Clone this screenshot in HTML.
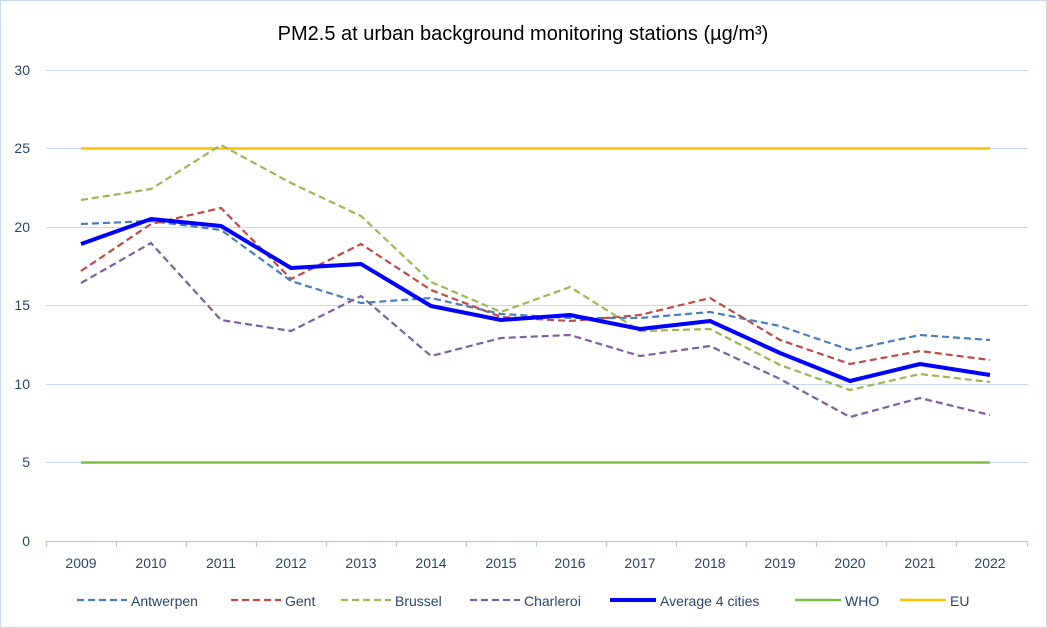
<!DOCTYPE html>
<html><head><meta charset="utf-8"><style>
html,body{margin:0;padding:0;background:#fff}
svg{display:block}
text{font-family:"Liberation Sans",sans-serif}
</style></head><body>
<svg width="1047" height="628" viewBox="0 0 1047 628" xmlns="http://www.w3.org/2000/svg">
<rect x="0.5" y="0.5" width="1046" height="627" fill="#fff" stroke="#c6d9f1"/>
<text x="523" y="40" font-size="20" text-anchor="middle" fill="#000">PM2.5 at urban background monitoring stations (µg/m³)</text>
<g stroke="#c6d9f1" stroke-width="1">
<line x1="46" x2="1028" y1="70.5" y2="70.5"/>
<line x1="46" x2="1028" y1="148.5" y2="148.5"/>
<line x1="46" x2="1028" y1="227.5" y2="227.5"/>
<line x1="46" x2="1028" y1="305.5" y2="305.5"/>
<line x1="46" x2="1028" y1="384.5" y2="384.5"/>
<line x1="46" x2="1028" y1="462.5" y2="462.5"/>
</g>
<g stroke="#b4cbe8" stroke-width="1.2">
<line x1="46" x2="1028" y1="541.5" y2="541.5"/>
<line x1="46.5" x2="46.5" y1="541" y2="547"/><line x1="116.5" x2="116.5" y1="541" y2="547"/>
<line x1="186.5" x2="186.5" y1="541" y2="547"/><line x1="256.5" x2="256.5" y1="541" y2="547"/>
<line x1="326.5" x2="326.5" y1="541" y2="547"/><line x1="396.5" x2="396.5" y1="541" y2="547"/>
<line x1="466.5" x2="466.5" y1="541" y2="547"/><line x1="536.5" x2="536.5" y1="541" y2="547"/>
<line x1="606.5" x2="606.5" y1="541" y2="547"/><line x1="676.5" x2="676.5" y1="541" y2="547"/>
<line x1="746.5" x2="746.5" y1="541" y2="547"/><line x1="816.5" x2="816.5" y1="541" y2="547"/>
<line x1="886.5" x2="886.5" y1="541" y2="547"/><line x1="956.5" x2="956.5" y1="541" y2="547"/>
<line x1="1027.5" x2="1027.5" y1="541" y2="547"/>
</g>
<g font-size="14" fill="#2b4570" text-anchor="end">
<text x="30" y="75">30</text><text x="30" y="153">25</text><text x="30" y="232">20</text>
<text x="30" y="310">15</text><text x="30" y="389">10</text><text x="30" y="467">5</text><text x="30" y="546">0</text>
</g>
<g font-size="14" fill="#2b4570" text-anchor="middle">
<text x="81" y="568">2009</text><text x="151" y="568">2010</text><text x="221" y="568">2011</text>
<text x="291" y="568">2012</text><text x="361" y="568">2013</text><text x="431" y="568">2014</text>
<text x="501" y="568">2015</text><text x="570" y="568">2016</text><text x="640" y="568">2017</text>
<text x="710" y="568">2018</text><text x="780" y="568">2019</text><text x="850" y="568">2020</text>
<text x="920" y="568">2021</text><text x="990" y="568">2022</text>
</g>
<line x1="81" x2="990" y1="462.5" y2="462.5" stroke="#7ac143" stroke-width="2.5"/>
<line x1="81" x2="990" y1="148.5" y2="148.5" stroke="#ffc000" stroke-width="2.5"/>
<g fill="none" stroke-width="2.2" stroke-dasharray="7,4">
<polyline stroke="#4a7ebb" points="81,224 151,221 221,230 291,281 361,303 431,298 501,314 570,318 640,318 710,312 780,326 850,350 920,335 990,340"/>
<polyline stroke="#be4b48" points="81,271 151,224 221,208 291,279 361,244 431,290 501,317 570,321 640,315 710,298 780,340 850,364 920,351 990,360"/>
<polyline stroke="#98b954" points="81,200 151,189 221,145 291,183 361,216 431,282 501,312 570,287 640,331 710,329 780,365 850,390 920,374 990,382"/>
<polyline stroke="#7d60a0" points="81,283 151,243 221,320 291,331 361,296 431,356 501,338 570,335 640,356 710,346 780,379 850,417 920,398 990,415"/>
</g>
<polyline fill="none" stroke="#0000ff" stroke-width="4" stroke-linejoin="round" points="81,244 151,219 221,226 291,268 361,264 431,306 501,320 570,315 640,329 710,321 780,353 850,381 920,364 990,375"/>
<g font-size="14" fill="#2b4570">
<line x1="77" x2="127" y1="600" y2="600" stroke="#4a7ebb" stroke-width="2.2" stroke-dasharray="7,4"/><text x="131" y="606">Antwerpen</text>
<line x1="231" x2="281" y1="600" y2="600" stroke="#be4b48" stroke-width="2.2" stroke-dasharray="7,4"/><text x="285" y="606">Gent</text>
<line x1="341" x2="391" y1="600" y2="600" stroke="#98b954" stroke-width="2.2" stroke-dasharray="7,4"/><text x="395" y="606">Brussel</text>
<line x1="470" x2="520" y1="600" y2="600" stroke="#7d60a0" stroke-width="2.2" stroke-dasharray="7,4"/><text x="524" y="606">Charleroi</text>
<line x1="610" x2="656" y1="600" y2="600" stroke="#0000ff" stroke-width="4"/><text x="660" y="606">Average 4 cities</text>
<line x1="795" x2="841" y1="600" y2="600" stroke="#7ac143" stroke-width="2.5"/><text x="845" y="606">WHO</text>
<line x1="900" x2="946" y1="600" y2="600" stroke="#ffc000" stroke-width="2.5"/><text x="950" y="606">EU</text>
</g>
</svg>
</body></html>
